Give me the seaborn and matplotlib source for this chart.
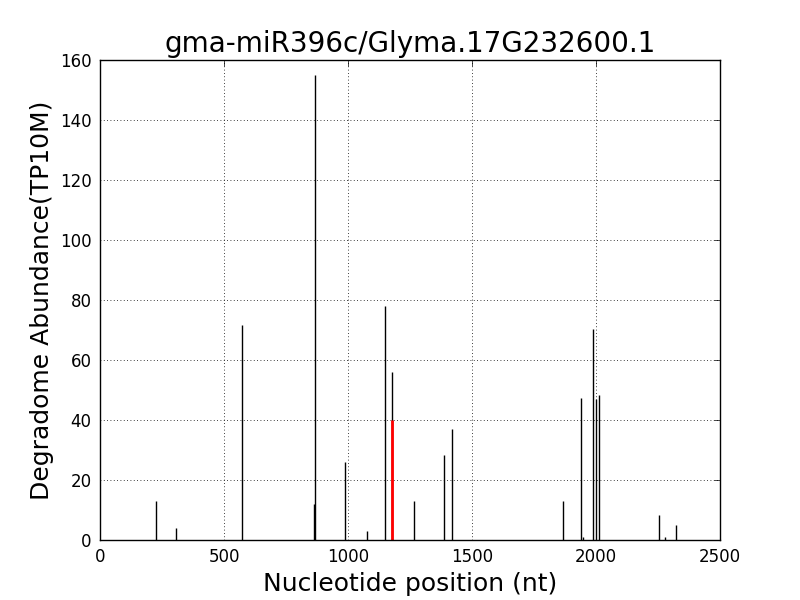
import matplotlib
matplotlib.use("Agg")
import matplotlib.pyplot as plt
import seaborn as sns

# Degradome read positions (nt) and abundances (TP10M)
positions = [224, 308, 573, 863, 868, 988, 1078, 1150, 1179, 1268,
             1389, 1419, 1868, 1941, 1949, 1988, 1999, 2013, 2255, 2280, 2323]
abundance = [13, 4, 71.7, 12, 155, 26, 3, 78, 56, 13,
             28.4, 37, 13, 47.2, 1, 70.2, 47, 48.2, 8.3, 1, 5]

# Predicted cleavage site (highlighted)
site_position = [1179]
site_abundance = [40]

title = "gma-miR396c/Glyma.17G232600.1"

sns.set_theme(style="white", rc={
    "xtick.direction": "in", "ytick.direction": "in",
    "xtick.top": True, "ytick.right": True,
    "xtick.major.size": 4, "ytick.major.size": 4,
    "xtick.major.width": 0.5, "ytick.major.width": 0.5,
    "axes.edgecolor": "black", "axes.linewidth": 1.0,
    "text.color": "black", "axes.labelcolor": "black",
    "xtick.color": "black", "ytick.color": "black",
})
plt.rcParams["font.family"] = ["DejaVu Sans"]

fig, ax = plt.subplots(figsize=(8, 6), dpi=100)
fig.subplots_adjust(left=0.125, right=0.9, bottom=0.1, top=0.9)

ax.vlines(positions, 0, abundance, colors="black", linewidth=1)
ax.vlines(site_position, 0, site_abundance, colors="red", linewidth=2)

ax.set_xlim(0, 2500)
ax.set_ylim(0, 160)
ax.set_xticks(range(0, 2501, 500))
ax.set_yticks(range(0, 161, 20))
ax.tick_params(labelsize=12, length=4, width=0.5, pad=6)
ax.grid(True, linestyle=(0, (1, 3)), color="black", linewidth=0.6)

ax.set_title(title, fontsize=20, color="black")
ax.set_xlabel("Nucleotide position (nt)", fontsize=18, color="black")
ax.set_ylabel("Degradome Abundance(TP10M)", fontsize=18, color="black")

fig.savefig("out.png", dpi=100, facecolor="white")
plt.close(fig)
